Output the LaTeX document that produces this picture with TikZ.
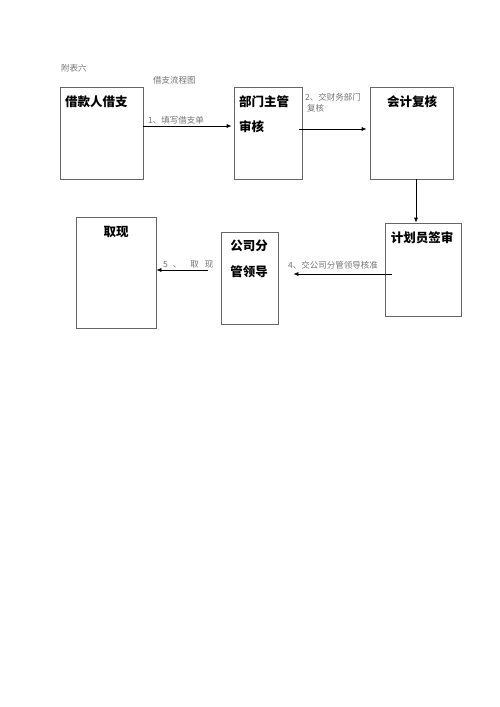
\documentclass[tikz,border=0pt]{standalone}
\usepackage{fontspec}
\setmainfont{Noto Sans CJK SC}
\usetikzlibrary{arrows.meta}
\begin{document}
\begin{tikzpicture}[x=1pt,y=-1pt,
  box/.style={draw=black!60,line width=0.7pt,inner sep=0pt},
  btxt/.style={font=\fontsize{12.5}{14}\selectfont\bfseries,inner sep=0pt,anchor=center},
  lbl/.style={font=\fontsize{8.5}{10}\selectfont,text=black!55,inner sep=0pt},
  arr/.style={-{Latex[length=5pt,width=4pt]},line width=0.7pt}]
\useasboundingbox (0,0) rectangle (500,707);
% title texts
\node[lbl,anchor=west] (t1) at (61,68) {附表六};
\node[lbl,anchor=west] (t2) at (153,80) {借支流程图};
% boxes
\node[box,minimum width=83pt,minimum height=92pt] (b1) at (101.5,133) {};
\node[box,minimum width=68pt,minimum height=92pt] (b2) at (268,133) {};
\node[box,minimum width=83pt,minimum height=92pt] (b3) at (411.5,133) {};
\node[box,minimum width=76pt,minimum height=93pt] (b4) at (423,269.5) {};
\node[box,minimum width=57pt,minimum height=92pt] (b5) at (249.5,278) {};
\node[box,minimum width=80pt,minimum height=111pt] (b6) at (116,272.5) {};
% box texts
\node[btxt,anchor=west] (x1) at (65,102) {借款人借支};
\node[btxt,anchor=west] (x2a) at (239,102) {部门主管};
\node[btxt,anchor=west] (x2b) at (239,127) {审核};
\node[btxt] (x3) at (412,102) {会计复核};
\node[btxt] (x4) at (422,238) {计划员签审};
\node[btxt] (x5a) at (249,246) {公司分};
\node[btxt] (x5b) at (249,272) {管领导};
\node[btxt] (x6) at (116,232) {取现};
% arrows
\draw[arr] ([yshift=7pt]b1.east) -- ([xshift=-2pt,yshift=7pt]b2.west);
\draw[arr] ([xshift=-3pt,yshift=4pt]b2.east) -- ([xshift=-3pt,yshift=4pt]b3.west);
\draw[arr] ([xshift=4.5pt]b3.south) -- ([xshift=-7pt]b4.north);
\draw[arr] ([xshift=7pt,yshift=-4.5pt]b4.west) -- ([xshift=15pt,yshift=4pt]b5.east);
\draw[arr] ([xshift=-13pt,yshift=8pt]b5.west) -- ([yshift=2.5pt]b6.east);
% arrow labels
\node[lbl,anchor=west] (l1) at (148,120) {1、填写借支单};
\node[lbl,anchor=west] (l2a) at (305,97) {2、交财务部门};
\node[lbl,anchor=west] (l2b) at (307,108) {复核};
\node[lbl] (l4) at (333,265) {4、交公司分管领导核准};
\node[lbl,anchor=west] (l5) at (163,264) {5\hspace{5pt}、\hspace{9pt}取\hspace{6pt}现};
\end{tikzpicture}
\end{document}
